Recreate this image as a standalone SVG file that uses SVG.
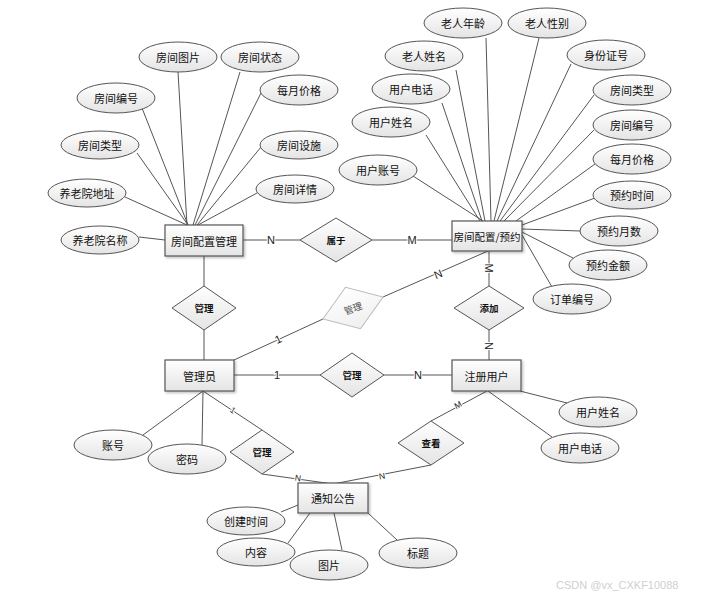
<svg xmlns="http://www.w3.org/2000/svg" width="701" height="596" viewBox="0 0 701 596">
<defs>
<linearGradient id="g" x1="0" y1="0" x2="0" y2="1"><stop offset="0" stop-color="#ffffff"/><stop offset="1" stop-color="#e4e4e4"/></linearGradient>
<linearGradient id="g2" x1="0" y1="0" x2="0" y2="1"><stop offset="0" stop-color="#ffffff"/><stop offset="1" stop-color="#efefef"/></linearGradient>
<filter id="sh" x="-10%" y="-10%" width="130%" height="140%"><feDropShadow dx="1.5" dy="1.5" stdDeviation="1" flood-color="#000" flood-opacity="0.25"/></filter>
</defs>
<style>
text{font-family:"Noto Sans CJK SC","Liberation Sans",sans-serif;fill:#111;text-anchor:middle;dominant-baseline:central}
.a ellipse{fill:url(#g);stroke:#555;stroke-width:1}
.a text{font-size:11px}
.e rect{fill:url(#g);stroke:#555;stroke-width:1.2;filter:url(#sh)}
.e text{font-size:11px}
.e text.n{font-size:10.5px}
.r polygon{fill:url(#g);stroke:#555;stroke-width:1}
.r text{font-size:9.5px;font-weight:bold}
.gr polygon{fill:url(#g2);stroke:#bbb}
.gr text{fill:#555;font-weight:normal}
.c line{stroke:#555;stroke-width:1}
.l text{font-family:"Liberation Sans",sans-serif;font-size:11px;fill:#222;paint-order:stroke;stroke:#fff;stroke-width:2px}
.l text.s{font-size:8.5px}
.wm{font-family:"Liberation Sans",sans-serif;font-size:11px;fill:#d0d0d0;text-anchor:start}
</style>
<rect width="701" height="596" fill="#fff"/>
<g id="connectors" class="c">
<line x1="142" y1="108" x2="188" y2="225"/>
<line x1="178" y1="72" x2="187" y2="225"/>
<line x1="240" y1="72" x2="193" y2="225"/>
<line x1="261" y1="93" x2="195" y2="225"/>
<line x1="261" y1="147" x2="197" y2="225"/>
<line x1="257" y1="193" x2="198" y2="225"/>
<line x1="137" y1="153" x2="188" y2="225"/>
<line x1="125" y1="197" x2="187" y2="225"/>
<line x1="139" y1="237" x2="165" y2="240"/>
<line x1="486" y1="38" x2="491" y2="221"/>
<line x1="539" y1="38" x2="494" y2="221"/>
<line x1="456" y1="70" x2="485" y2="221"/>
<line x1="571" y1="64" x2="497" y2="221"/>
<line x1="442" y1="103" x2="482" y2="221"/>
<line x1="594" y1="95" x2="500" y2="221"/>
<line x1="426" y1="135" x2="480" y2="221"/>
<line x1="594" y1="130" x2="504" y2="221"/>
<line x1="413" y1="176" x2="483" y2="221"/>
<line x1="595" y1="164" x2="516" y2="221"/>
<line x1="595" y1="198" x2="522" y2="225"/>
<line x1="580" y1="231" x2="522" y2="229"/>
<line x1="573" y1="258" x2="522" y2="232"/>
<line x1="552" y1="287" x2="522" y2="235"/>
<line x1="243" y1="240" x2="300" y2="240"/>
<line x1="372" y1="240" x2="452" y2="240"/>
<line x1="204" y1="256" x2="204" y2="286"/>
<line x1="204" y1="330" x2="204" y2="360"/>
<line x1="234" y1="360" x2="323" y2="319"/>
<line x1="383" y1="297" x2="488" y2="251"/>
<line x1="489" y1="251" x2="489" y2="286"/>
<line x1="489" y1="330" x2="489" y2="360"/>
<line x1="234" y1="375" x2="320" y2="375"/>
<line x1="384" y1="375" x2="452" y2="375"/>
<line x1="203" y1="391" x2="143" y2="435"/>
<line x1="203" y1="391" x2="202" y2="445"/>
<line x1="203" y1="391" x2="262" y2="430"/>
<line x1="262" y1="474" x2="333" y2="484"/>
<line x1="487" y1="391" x2="431" y2="421"/>
<line x1="431" y1="465" x2="333" y2="484"/>
<line x1="520" y1="391" x2="567" y2="403"/>
<line x1="488" y1="391" x2="552" y2="437"/>
<line x1="281" y1="512" x2="298" y2="505"/>
<line x1="288" y1="543" x2="310" y2="513"/>
<line x1="342" y1="550" x2="334" y2="513"/>
<line x1="397" y1="540" x2="368" y2="513"/>
</g>
<g id="cardinalities" class="l">
<text x="271" y="240">N</text>
<text x="412" y="240">M</text>
<text x="278" y="339" transform="rotate(-25 278 339)">1</text>
<text x="438" y="274" transform="rotate(-23 438 274)">N</text>
<text x="489" y="268" transform="rotate(90 489 268)">M</text>
<text x="489" y="346" transform="rotate(90 489 346)">N</text>
<text x="277" y="375">1</text>
<text x="418" y="375">N</text>
<text class="s" x="233" y="410" transform="rotate(34 233 410)">1</text>
<text class="s" x="298" y="478" transform="rotate(8 298 478)">N</text>
<text class="s" x="458" y="405" transform="rotate(-28 458 405)">M</text>
<text class="s" x="382" y="476" transform="rotate(-10 382 476)">N</text>
</g>
<g id="attr-left" class="a">
<g id="a-fjtp"><ellipse cx="178" cy="57" rx="39" ry="15"/><text x="178" y="57">房间图片</text></g>
<g id="a-fjzt"><ellipse cx="260" cy="57" rx="39" ry="15"/><text x="260" y="57">房间状态</text></g>
<g id="a-myjg1"><ellipse cx="299" cy="90" rx="39" ry="15"/><text x="299" y="90">每月价格</text></g>
<g id="a-fjbh1"><ellipse cx="116" cy="98" rx="39" ry="15"/><text x="116" y="98">房间编号</text></g>
<g id="a-fjlx1"><ellipse cx="100" cy="145" rx="39" ry="14"/><text x="100" y="145">房间类型</text></g>
<g id="a-fjss"><ellipse cx="299" cy="145" rx="39" ry="14"/><text x="299" y="145">房间设施</text></g>
<g id="a-ylydz"><ellipse cx="87" cy="193" rx="39" ry="14"/><text x="87" y="193">养老院地址</text></g>
<g id="a-fjxq"><ellipse cx="295" cy="189" rx="39" ry="14"/><text x="295" y="189">房间详情</text></g>
<g id="a-ylymc"><ellipse cx="100" cy="240" rx="39" ry="14"/><text x="100" y="240">养老院名称</text></g>
</g>
<g id="attr-right" class="a">
<g id="b-lrnl"><ellipse cx="463" cy="23" rx="39" ry="15"/><text x="463" y="23">老人年龄</text></g>
<g id="b-lrxb"><ellipse cx="547" cy="23" rx="39" ry="15"/><text x="547" y="23">老人性别</text></g>
<g id="b-lrxm"><ellipse cx="424" cy="56" rx="39" ry="15"/><text x="424" y="56">老人姓名</text></g>
<g id="b-sfzh"><ellipse cx="606" cy="55" rx="39" ry="15"/><text x="606" y="55">身份证号</text></g>
<g id="b-yhdh"><ellipse cx="411" cy="89" rx="39" ry="15"/><text x="411" y="89">用户电话</text></g>
<g id="b-fjlx"><ellipse cx="632" cy="90" rx="39" ry="15"/><text x="632" y="90">房间类型</text></g>
<g id="b-yhxm"><ellipse cx="391" cy="122" rx="39" ry="15"/><text x="391" y="122">用户姓名</text></g>
<g id="b-fjbh"><ellipse cx="632" cy="125" rx="39" ry="15"/><text x="632" y="125">房间编号</text></g>
<g id="b-yhzh"><ellipse cx="378" cy="170" rx="39" ry="15"/><text x="378" y="170">用户账号</text></g>
<g id="b-myjg"><ellipse cx="632" cy="159" rx="39" ry="15"/><text x="632" y="159">每月价格</text></g>
<g id="b-yysj"><ellipse cx="632" cy="195" rx="39" ry="14"/><text x="632" y="195">预约时间</text></g>
<g id="b-yyys"><ellipse cx="619" cy="231" rx="39" ry="15"/><text x="619" y="231">预约月数</text></g>
<g id="b-yyje"><ellipse cx="608" cy="265" rx="39" ry="15"/><text x="608" y="265">预约金额</text></g>
<g id="b-ddbh"><ellipse cx="572" cy="299" rx="39" ry="15"/><text x="572" y="299">订单编号</text></g>
</g>
<g id="attr-bottom" class="a">
<g id="c-zh"><ellipse cx="113" cy="445" rx="39" ry="15"/><text x="113" y="445">账号</text></g>
<g id="c-mm"><ellipse cx="187" cy="459" rx="39" ry="15"/><text x="187" y="459">密码</text></g>
<g id="c-yhxm"><ellipse cx="598" cy="412" rx="39" ry="15"/><text x="598" y="412">用户姓名</text></g>
<g id="c-yhdh"><ellipse cx="580" cy="448" rx="39" ry="15"/><text x="580" y="448">用户电话</text></g>
<g id="c-cjsj"><ellipse cx="246" cy="521" rx="39" ry="14"/><text x="246" y="521">创建时间</text></g>
<g id="c-nr"><ellipse cx="256" cy="552" rx="39" ry="14"/><text x="256" y="552">内容</text></g>
<g id="c-tp"><ellipse cx="329" cy="565" rx="39" ry="15"/><text x="329" y="565">图片</text></g>
<g id="c-bt"><ellipse cx="418" cy="553" rx="39" ry="15"/><text x="418" y="553">标题</text></g>
</g>
<g id="relations" class="r">
<g id="r-sy"><polygon points="300,240 336,218 372,240 336,262"/><text x="336" y="240">属于</text></g>
<g id="r-gl1"><polygon points="172,308 204,286 236,308 204,330"/><text x="204" y="308">管理</text></g>
<g id="r-gl2" class="gr" transform="rotate(-20 353 308)"><polygon points="321,308 353,286 385,308 353,330"/><text x="353" y="308">管理</text></g>
<g id="r-tj"><polygon points="454,308 489,286 524,308 489,330"/><text x="489" y="308">添加</text></g>
<g id="r-gl3"><polygon points="320,375 352,353 384,375 352,397"/><text x="352" y="375">管理</text></g>
<g id="r-gl4"><polygon points="230,452 262,430 294,452 262,474"/><text x="262" y="452">管理</text></g>
<g id="r-ck"><polygon points="398,443 431,421 464,443 431,465"/><text x="431" y="443">查看</text></g>
</g>
<g id="entities" class="e">
<g id="e-fjpzgl"><rect x="165" y="225" width="78" height="31"/><text x="204" y="240.5">房间配置管理</text></g>
<g id="e-fjpzyy"><rect x="452" y="221" width="70" height="30"/><text class="n" x="487" y="236">房间配置/预约</text></g>
<g id="e-gly"><rect x="165" y="360" width="69" height="31"/><text x="199.5" y="375.5">管理员</text></g>
<g id="e-zcyh"><rect x="452" y="360" width="69" height="31"/><text x="486.5" y="375.5">注册用户</text></g>
<g id="e-tzgg"><rect x="298" y="483" width="70" height="30"/><text x="333" y="498">通知公告</text></g>
</g>
<text class="wm" x="556" y="585">CSDN @vx_CXKF10088</text>
</svg>
